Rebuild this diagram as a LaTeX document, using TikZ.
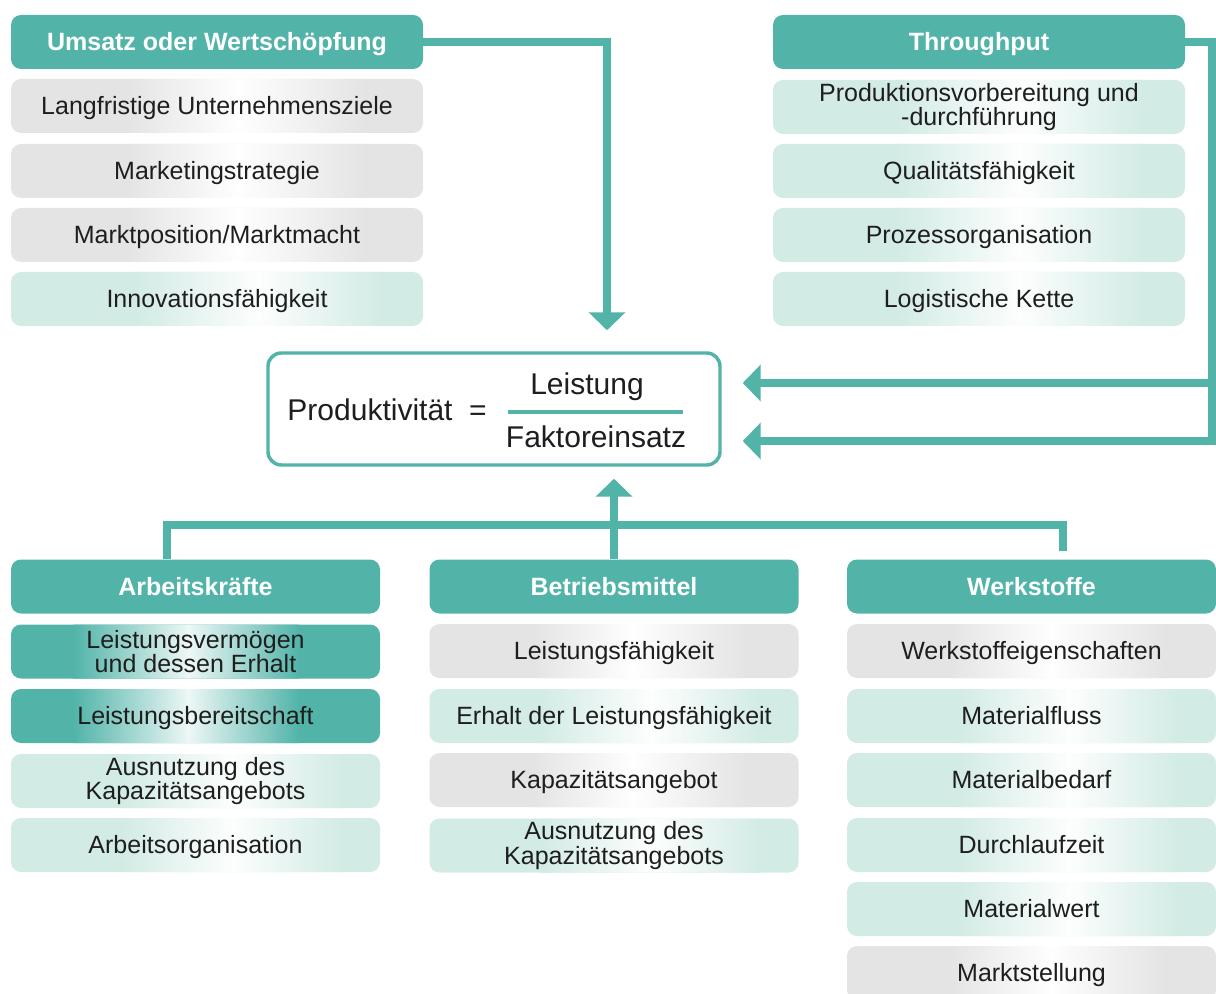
\documentclass[tikz,border=0pt]{standalone}
\usepackage{fontspec}
\setmainfont{Liberation Sans}
\usetikzlibrary{arrows.meta,calc}
\definecolor{teal1}{RGB}{82,180,169}
\definecolor{ltteal}{RGB}{210,235,229}
\definecolor{ltgray}{RGB}{228,228,228}
\definecolor{txt}{RGB}{30,30,30}
\newcommand\itemfnt{\fontsize{18.75pt}{17.25pt}\selectfont}
\newcommand\hdrfnt{\fontsize{18.75pt}{17.25pt}\selectfont\bfseries}
\newcommand\bigfnt{\fontsize{22.5pt}{26pt}\selectfont}
\begin{document}
\begin{tikzpicture}[x=0.75pt,y=-0.75pt,
  grad/.style n args={5}{fill=#1, path picture={
      \coordinate (gsw) at (path picture bounding box.south west);
      \coordinate (gne) at (path picture bounding box.north east);
      \shade[sharp corners, left color=#1, right color=#5] ($(gsw)!#2!(gsw-|gne)$) rectangle ($(gsw|-gne)!#3+0.003!(gne)$);
      \shade[sharp corners, left color=#5, right color=#1] ($(gsw)!#3!(gsw-|gne)$) rectangle ($(gsw|-gne)!#4!(gne)$);
  }},
  sl/.style={text height=13.4pt, text depth=0pt},
  hdr/.style={rounded corners=7.5pt, fill=teal1, text=white, font=\hdrfnt, inner sep=0pt, minimum height=40.5pt, sl},
  itm/.style={rounded corners=7.5pt, text=txt, font=\itemfnt, align=center, inner sep=0pt, minimum height=40.5pt},
  wideA/.style={minimum width=309pt},
  wideB/.style={minimum width=276.75pt},
  ggr/.style={itm, grad={ltgray}{0.28}{0.55}{0.86}{white!97!ltgray}},
  glt/.style={itm, grad={ltteal}{0.3}{0.6}{0.9}{white!95!ltteal}},
  gdk/.style={itm, grad={teal1}{0.17}{0.48}{0.78}{white!90!teal1}},
  gr/.style={ggr, sl},
  lt/.style={glt, sl},
  dk/.style={gdk, sl},
  big/.style={font=\bigfnt, text=txt, inner sep=0pt, anchor=base},
  line/.style={draw=teal1, line width=6pt},
  arr/.style={line, -{Triangle[width=27pt,length=13.5pt]}}
]
\useasboundingbox (0,0) rectangle (1216,994);

% top left column
\node[hdr,wideA] (h1) at (217,42) {Umsatz oder Wertschöpfung};
\node[gr,wideA] (a1) at (217,106) {Langfristige Unternehmensziele};
\node[gr,wideA] (a2) at (217,171) {Marketingstrategie};
\node[gr,wideA] (a3) at (217,235) {Marktposition/Marktmacht};
\node[lt,wideA] (a4) at (217,299) {Innovationsfähigkeit};

% top right column
\node[hdr,wideA] (h2) at (979,42) {Throughput};
\node[glt,wideA] (b1) at (979,107) {Produktionsvorbereitung und\\-durchführung};
\node[lt,wideA] (b2) at (979,171) {Qualitätsfähigkeit};
\node[lt,wideA] (b3) at (979,235) {Prozessorganisation};
\node[lt,wideA] (b4) at (979,299) {Logistische Kette};

% central box
\node[draw=teal1, line width=2.6pt, rounded corners=10pt, fill=white, minimum width=339pt, minimum height=84pt] (prod) at (494,409) {};
\node[big] (pt) at (370,421) {Produktivität};
\node[big] (eq) at (478,421) {=};
\node[big] (num) at (587,395) {Leistung};
\node[big] (den) at (596,447) {Faktoreinsatz};
\draw[draw=teal1, line width=2.4pt] (508,412) -- (683,412);

% bottom columns
\node[hdr,wideB] (ak) at (195.5,586.5) {Arbeitskräfte};
\node[gdk,wideB] (c1) at (195.5,651.5) {Leistungsvermögen\\und dessen Erhalt};
\node[dk,wideB] (c2) at (195.5,716) {Leistungsbereitschaft};
\node[glt,wideB] (c3) at (195.5,781) {Ausnutzung des\\Kapazitätsangebots};
\node[lt,wideB] (c4) at (195.5,845) {Arbeitsorganisation};

\node[hdr,wideB] (bm) at (614,586.5) {Betriebsmittel};
\node[gr,wideB] (d1) at (614,651) {Leistungsfähigkeit};
\node[lt,wideB] (d2) at (614,716) {Erhalt der Leistungsfähigkeit};
\node[gr,wideB] (d3) at (614,780) {Kapazitätsangebot};
\node[glt,wideB] (d4) at (614,845.5) {Ausnutzung des\\Kapazitätsangebots};

\node[hdr,wideB] (wk) at (1031.5,586.5) {Werkstoffe};
\node[gr,wideB] (e1) at (1031.5,651) {Werkstoffeigenschaften};
\node[lt,wideB] (e2) at (1031.5,716) {Materialfluss};
\node[lt,wideB] (e3) at (1031.5,780) {Materialbedarf};
\node[lt,wideB] (e4) at (1031.5,845) {Durchlaufzeit};
\node[lt,wideB] (e5) at (1031.5,909) {Materialwert};
\node[gr,wideB] (e6) at (1031.5,973) {Marktstellung};

% connectors
\coordinate (tl) at (607,0);
\coordinate (tr) at (1212,0);
\coordinate (ya) at (0,383);
\coordinate (yb) at (0,441);
\coordinate (bl) at (167,525);
\coordinate (br) at (1063,525);

\draw[arr, shorten >=15.75pt] (h1.east) -| (prod.north -| tl);
\draw[arr, shorten >=15.75pt] (h2.east) -| (tr |- yb) -- (prod.east |- yb);
\draw[arr, shorten >=15.75pt] (tr |- ya) -- (prod.east |- ya);
\draw[line, shorten >=6pt] (ak.north -| bl) -- (bl) -- (br) -- (wk.north -| br);
\draw[arr, shorten >=9pt] (bm.north) -- (bm.north |- prod.south);
\end{tikzpicture}
\end{document}
